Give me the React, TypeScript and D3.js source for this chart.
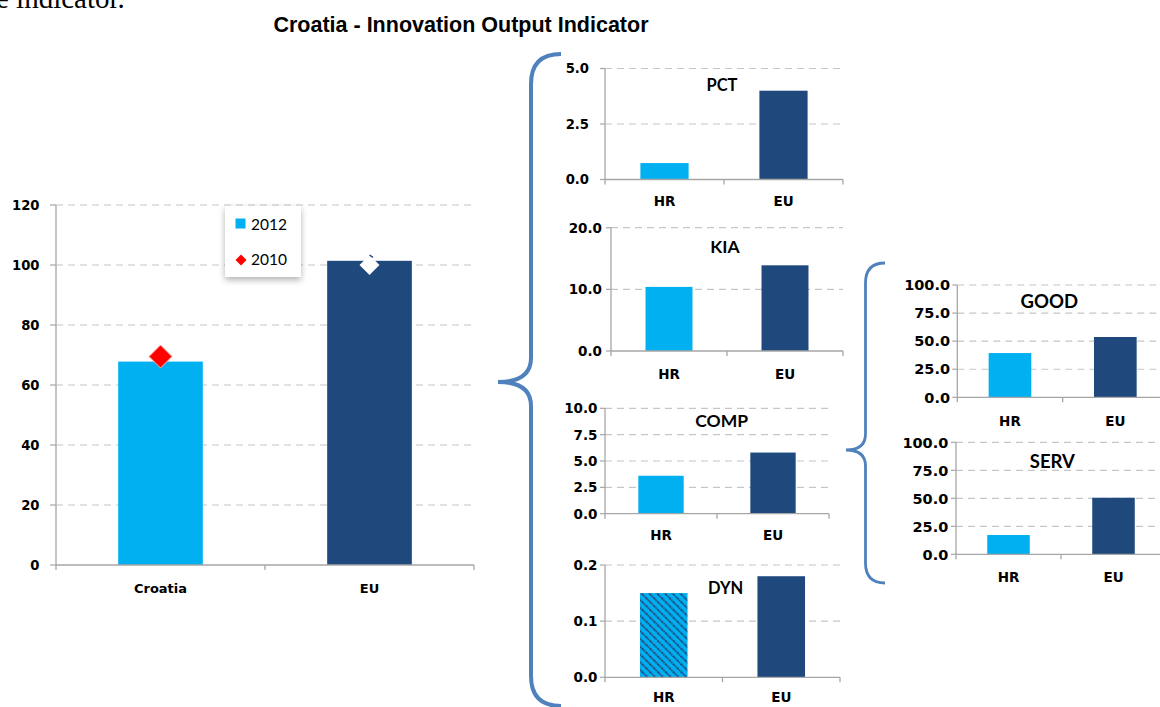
import React from "react";
import * as d3 from "d3";

// ---------- DATA ----------
const mainCategories = ["Croatia", "EU"];
const main2012 = [67.8, 101.4];
const main2010 = [69.5, 100.0];
const mainTicks = [0, 20, 40, 60, 80, 100, 120];

const subCategories = ["HR", "EU"];
const pctValues = [0.74, 4.0];
const pctTicks = [0, 2.5, 5.0];
const kiaValues = [10.4, 13.9];
const kiaTicks = [0, 10, 20];
const compValues = [3.6, 5.8];
const compTicks = [0, 2.5, 5.0, 7.5, 10.0];
const dynValues = [0.15, 0.18];
const dynTicks = [0, 0.1, 0.2];
const goodValues = [39.4, 53.7];
const goodTicks = [0, 25, 50, 75, 100];
const servValues = [17.2, 50.5];
const servTicks = [0, 25, 50, 75, 100];

const legendLabels = ["2012", "2010"];
const chartTitle = "Croatia - Innovation Output Indicator";

// ---------- STYLE ----------
const LIGHT = "#00b0f0";
const NAVY = "#1f497d";
const BRACE = "#4f81bd";
const GRID = "#c6c6c6";
const AXIS = "#a6a6a6";
const FONT = "Lato, 'Open Sans', sans-serif";
const LFONT = "'DejaVu Sans', Verdana, sans-serif";

type Layout = {
  x0: number; x1: number; y0: number; yTop: number; tickSize: number;
  labelRight: number; titleX: number; titleY: number; titleSize: number; xLabelY: number;
};

const layouts: Record<string, Layout> = {
  PCT: { x0: 605, x1: 843, y0: 179.5, yTop: 68.5, tickSize: 13.2, labelRight: 589, titleX: 722, titleY: 90.5, titleSize: 16.5, xLabelY: 205.5 },
  KIA: { x0: 611, x1: 843, y0: 351, yTop: 227.7, tickSize: 13.5, labelRight: 602, titleX: 725, titleY: 253, titleSize: 17.5, xLabelY: 378.5 },
  COMP: { x0: 605, x1: 829, y0: 513.7, yTop: 408.3, tickSize: 13.5, labelRight: 597.5, titleX: 721.7, titleY: 426.7, titleSize: 17.5, xLabelY: 540 },
  DYN: { x0: 605, x1: 840, y0: 677.3, yTop: 565, tickSize: 13.5, labelRight: 597.5, titleX: 725.7, titleY: 594, titleSize: 16.5, xLabelY: 702 },
  GOOD: { x0: 957.3, x1: 1168, y0: 397.3, yTop: 285, tickSize: 14.5, labelRight: 950, titleX: 1049.3, titleY: 308.3, titleSize: 18.5, xLabelY: 425.5 },
  SERV: { x0: 956, x1: 1166, y0: 554.3, yTop: 442.3, tickSize: 14.5, labelRight: 948.3, titleX: 1052.3, titleY: 467.7, titleSize: 18.5, xLabelY: 582 },
};

function SmallChart(props: {
  name: string; values: number[]; ticks: number[]; hatchFirst?: boolean;
}) {
  const { name, values, ticks, hatchFirst } = props;
  const L = layouts[name];
  const x = d3.scaleBand<string>().domain(subCategories).range([L.x0, L.x1]).paddingInner(0.595).paddingOuter(0.2975);
  const y = d3.scaleLinear().domain([0, ticks[ticks.length - 1]]).range([L.y0, L.yTop]);
  const fmt = d3.format(".1f");
  const step = (L.x1 - L.x0) / subCategories.length;
  return (
    <g>
      {ticks.filter((t) => t > 0).map((t) => (
        <line key={"g" + t} x1={L.x0} x2={L.x1} y1={y(t)} y2={y(t)} stroke={GRID} strokeWidth={1.2} strokeDasharray="7,5" />
      ))}
      {ticks.map((t) => (
        <line key={"t" + t} x1={L.x0 - 5} x2={L.x0} y1={y(t)} y2={y(t)} stroke={AXIS} strokeWidth={1.2} />
      ))}
      {ticks.map((t) => (
        <text key={"l" + t} x={L.labelRight} y={y(t) + L.tickSize * 0.36} textAnchor="end" fontFamily={LFONT} fontWeight={700} fontSize={L.tickSize} fill="#000">
          {fmt(t)}
        </text>
      ))}
      {values.map((v, i) => (
        <rect key={"b" + i} x={x(subCategories[i])} y={y(v)} width={x.bandwidth()} height={L.y0 - y(v)}
          fill={i === 0 ? (hatchFirst ? "url(#hatch)" : LIGHT) : NAVY} />
      ))}
      <line x1={L.x0} x2={L.x0} y1={L.yTop} y2={L.y0} stroke={AXIS} strokeWidth={1.3} />
      <line x1={L.x0} x2={L.x1} y1={L.y0} y2={L.y0} stroke={AXIS} strokeWidth={1.3} />
      {[0, 1, 2].map((k) => (
        <line key={"xt" + k} x1={L.x0 + k * step} x2={L.x0 + k * step} y1={L.y0} y2={L.y0 + 5} stroke={AXIS} strokeWidth={1.3} />
      ))}
      {subCategories.map((c) => (
        <text key={"x" + c} x={(x(c) as number) + x.bandwidth() / 2} y={L.xLabelY} textAnchor="middle" fontFamily={LFONT} fontWeight={700} fontSize={13.5} fill="#000">
          {c}
        </text>
      ))}
      <text x={L.titleX} y={L.titleY} textAnchor="middle" fontFamily={FONT} fontWeight={700} fontSize={L.titleSize} fill="#000">
        {name}
      </text>
    </g>
  );
}

function bracePath(xEnd: number, xV: number, xTip: number, yTop: number, yMid: number, yBot: number, r: number, r2: number) {
  const p = d3.path();
  p.moveTo(xEnd, yTop);
  p.quadraticCurveTo(xV, yTop, xV, yTop + r);
  p.lineTo(xV, yMid - r2);
  p.quadraticCurveTo(xV, yMid, xTip, yMid);
  p.quadraticCurveTo(xV, yMid, xV, yMid + r2);
  p.lineTo(xV, yBot - r);
  p.quadraticCurveTo(xV, yBot, xEnd, yBot);
  return p.toString();
}

function MainChart() {
  const X0 = 56, X1 = 474, Y0 = 565, YT = 205;
  const x = d3.scaleBand<string>().domain(mainCategories).range([X0, X1]).paddingInner(0.595).paddingOuter(0.2975);
  const y = d3.scaleLinear().domain([0, 120]).range([Y0, YT]);
  const step = (X1 - X0) / mainCategories.length;
  const diamond = (cx: number, cy: number, r: number) => `M${cx},${cy - r}L${cx + r},${cy}L${cx},${cy + r}L${cx - r},${cy}Z`;
  return (
    <g>
      {mainTicks.filter((t) => t > 0).map((t) => (
        <line key={"g" + t} x1={X0} x2={X1} y1={y(t)} y2={y(t)} stroke={GRID} strokeWidth={1.2} strokeDasharray="7,5" />
      ))}
      {mainTicks.map((t) => (
        <line key={"t" + t} x1={X0 - 6} x2={X0} y1={y(t)} y2={y(t)} stroke={AXIS} strokeWidth={1.2} />
      ))}
      {mainTicks.map((t) => (
        <text key={"l" + t} x={39.5} y={y(t) + 4.8} textAnchor="end" fontFamily={LFONT} fontWeight={700} fontSize={13.2} fill="#000">
          {t}
        </text>
      ))}
      {main2012.map((v, i) => (
        <rect key={"b" + i} x={x(mainCategories[i])} y={y(v)} width={x.bandwidth()} height={Y0 - y(v)} fill={i === 0 ? LIGHT : NAVY} />
      ))}
      <line x1={X0} x2={X0} y1={YT} y2={Y0} stroke={AXIS} strokeWidth={1.3} />
      <line x1={X0} x2={X1} y1={Y0} y2={Y0} stroke={AXIS} strokeWidth={1.3} />
      {[0, 1, 2].map((k) => (
        <line key={"xt" + k} x1={X0 + k * step} x2={X0 + k * step} y1={Y0} y2={Y0 + 5} stroke={AXIS} strokeWidth={1.3} />
      ))}
      {main2010.map((v, i) => {
        const cx = (x(mainCategories[i]) as number) + x.bandwidth() / 2;
        const cy = y(v);
        return i === 0 ? (
          <path key={"d" + i} d={diamond(cx, cy, 11.5)} fill="#ff0000" stroke="#ffb0b0" strokeWidth={1} />
        ) : (
          <g key={"d" + i}>
            <path d={diamond(cx, cy, 10)} fill="#ffffff" />
            <line x1={cx} y1={cy - 10} x2={cx + 3.4} y2={cy - 7.6} stroke={NAVY} strokeWidth={1.5} />
          </g>
        );
      })}
      {mainCategories.map((c) => (
        <text key={"x" + c} x={(x(c) as number) + x.bandwidth() / 2} y={593} textAnchor="middle" fontFamily={LFONT} fontWeight={700} fontSize={13} fill="#000">
          {c}
        </text>
      ))}
      {/* legend */}
      <rect x={225} y={206} width={76} height={71} fill="#fff" filter="url(#shadow)" />
      <rect x={235.5} y={218.5} width={10} height={10} fill={LIGHT} />
      <text x={251} y={230} fontFamily={FONT} fontSize={15.5} fill="#000">{legendLabels[0]}</text>
      <path d={diamond(241, 260, 5.5)} fill="#ff0000" />
      <text x={251} y={264.5} fontFamily={FONT} fontSize={15.5} fill="#000">{legendLabels[1]}</text>
    </g>
  );
}

export default function App() {
  return (
    <svg width={1160} height={707} style={{ position: "absolute", left: 0, top: 0, background: "#fff" }}>
      <defs>
        <pattern id="hatch" patternUnits="userSpaceOnUse" width={5.5} height={5.5} patternTransform="rotate(-45)">
          <rect width={5.5} height={5.5} fill={LIGHT} />
          <line x1={1} y1={0} x2={1} y2={5.5} stroke={NAVY} strokeWidth={1.9} strokeDasharray="1.5,0.8" />
        </pattern>
        <filter id="shadow" x="-20%" y="-20%" width="140%" height="150%">
          <feDropShadow dx={0} dy={3} stdDeviation={3} floodColor="#000" floodOpacity={0.3} />
        </filter>
      </defs>
      <rect width={1160} height={707} fill="#fff" />
      <text x={-4} y={8} fontFamily="'Liberation Serif', 'Times New Roman', serif" fontSize={29} fill="#000">e indicator.</text>
      <text x={461} y={32} textAnchor="middle" fontFamily="'Liberation Sans', Arial, sans-serif" fontWeight={700} fontSize={21.5} fill="#000">
        {chartTitle}
      </text>
      <MainChart />
      <SmallChart name="PCT" values={pctValues} ticks={pctTicks} />
      <SmallChart name="KIA" values={kiaValues} ticks={kiaTicks} />
      <SmallChart name="COMP" values={compValues} ticks={compTicks} />
      <SmallChart name="DYN" values={dynValues} ticks={dynTicks} hatchFirst />
      <SmallChart name="GOOD" values={goodValues} ticks={goodTicks} />
      <SmallChart name="SERV" values={servValues} ticks={servTicks} />
      <path d={bracePath(561, 531, 498, 54, 382, 706, 30, 24)} fill="none" stroke={BRACE} strokeWidth={4} />
      <path d={bracePath(885, 865.5, 846, 263, 450, 583, 20, 16)} fill="none" stroke={BRACE} strokeWidth={2.8} />
    </svg>
  );
}
